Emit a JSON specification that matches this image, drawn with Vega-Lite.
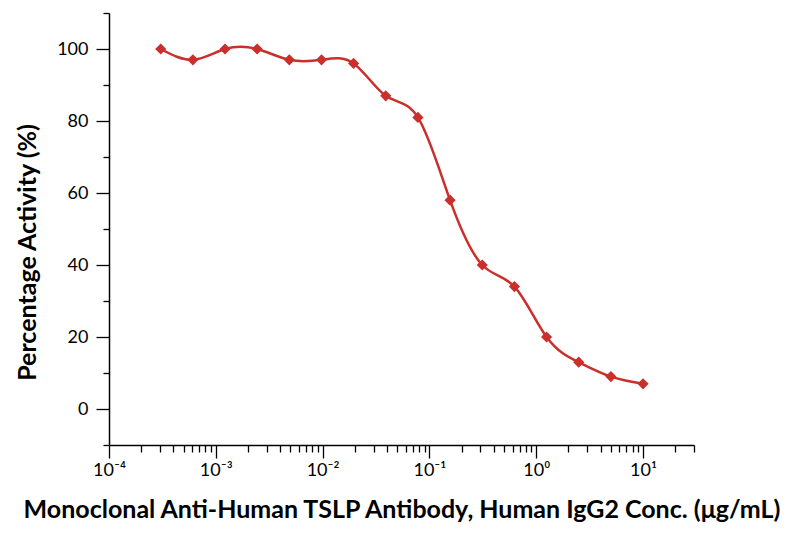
{
  "$schema": "https://vega.github.io/schema/vega-lite/v6.json",
  "width": 585,
  "height": 432,
  "autosize": {"type": "none"},
  "padding": {"left": 109, "top": 13, "right": 95, "bottom": 92},
  "background": "white",
  "config": {"view": {"stroke": null}, "font": "Lato"},
  "data": {
    "values": [
      {"conc": 0.000305, "activity": 100},
      {"conc": 0.00061, "activity": 97},
      {"conc": 0.00122, "activity": 100},
      {"conc": 0.00244, "activity": 100},
      {"conc": 0.00488, "activity": 97},
      {"conc": 0.00977, "activity": 97},
      {"conc": 0.0195, "activity": 96},
      {"conc": 0.039, "activity": 87},
      {"conc": 0.078, "activity": 81},
      {"conc": 0.156, "activity": 58},
      {"conc": 0.3125, "activity": 40},
      {"conc": 0.625, "activity": 34},
      {"conc": 1.25, "activity": 20},
      {"conc": 2.5, "activity": 13},
      {"conc": 5, "activity": 9},
      {"conc": 10, "activity": 7}
    ]
  },
  "encoding": {
    "x": {
      "field": "conc",
      "type": "quantitative",
      "scale": {"type": "log", "domain": [0.0001, 30], "nice": false},
      "axis": {
        "values": [0.0001, 0.0002, 0.0003, 0.0004, 0.0005, 0.0006, 0.0007, 0.0008, 0.0009, 0.001, 0.002, 0.003, 0.004, 0.005, 0.006, 0.007, 0.008, 0.009, 0.01, 0.02, 0.03, 0.04, 0.05, 0.06, 0.07, 0.08, 0.09, 0.1, 0.2, 0.3, 0.4, 0.5, 0.6, 0.7, 0.8, 0.9, 1, 2, 3, 4, 5, 6, 7, 8, 9, 10, 20, 30],
        "labelExpr": "abs(log(datum.value)/LN10 - round(log(datum.value)/LN10)) < 0.001 ? '10' + ['⁻⁴','⁻³','⁻²','⁻¹','⁰','¹'][round(log(datum.value)/LN10)+4] : ''",
        "grid": false,
        "domainColor": "black",
        "domainWidth": 1.5,
        "tickColor": "black",
        "tickWidth": 1.3,
        "tickSize": {"condition": {"test": "abs(log(datum.value)/LN10 - round(log(datum.value)/LN10)) < 0.001", "value": 13}, "value": 7},
        "labelFontSize": 18,
        "labelColor": "black",
        "labelPadding": 3,
        "labelFlush": false,
        "labelOverlap": false,
        "title": "Monoclonal Anti-Human TSLP Antibody, Human IgG2 Conc. (μg/mL)",
        "titleFontSize": 25,
        "titleFontWeight": "bold",
        "titleColor": "black",
        "titlePadding": 18
      }
    },
    "y": {
      "field": "activity",
      "type": "quantitative",
      "scale": {"domain": [-10, 110], "nice": false, "zero": false},
      "axis": {
        "values": [-10, 0, 10, 20, 30, 40, 50, 60, 70, 80, 90, 100, 110],
        "labelExpr": "datum.value % 20 == 0 && datum.value >= 0 && datum.value <= 100 ? datum.label : ''",
        "grid": false,
        "domainColor": "black",
        "domainWidth": 1.5,
        "tickColor": "black",
        "tickWidth": 1.3,
        "tickSize": {"condition": {"test": "datum.value % 20 == 0 && datum.value >= 0 && datum.value <= 100", "value": 13}, "value": 6},
        "labelFontSize": 18,
        "labelColor": "black",
        "labelPadding": 8,
        "title": "Percentage Activity (%)",
        "titleFontSize": 25,
        "titleFontWeight": "bold",
        "titleColor": "black",
        "titleX": -69,
        "titleY": 239
      }
    }
  },
  "layer": [
    {"mark": {"type": "line", "interpolate": "natural", "color": "#c9302c", "strokeWidth": 2.5}},
    {"mark": {"type": "point", "shape": "diamond", "filled": true, "size": 125, "color": "#c9302c", "opacity": 1}}
  ]
}
